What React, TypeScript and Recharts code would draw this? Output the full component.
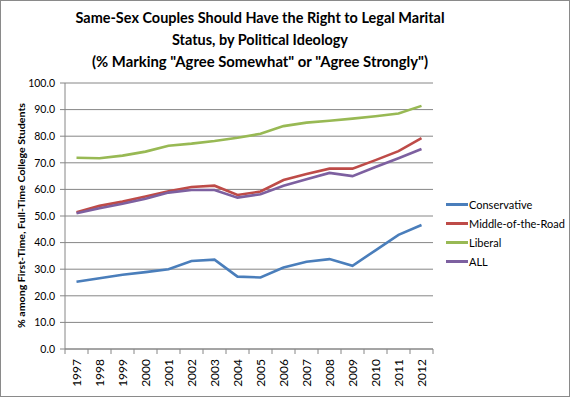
import { CartesianGrid, Legend, Line, LineChart, XAxis, YAxis } from "recharts";

const years = ["1997", "1998", "1999", "2000", "2001", "2002", "2003", "2004", "2005", "2006", "2007", "2008", "2009", "2010", "2011", "2012"];
const conservative = [25.3, 26.6, 27.9, 28.9, 30.0, 33.1, 33.6, 27.2, 26.9, 30.6, 32.8, 33.8, 31.3, 37.1, 42.9, 46.6];
const middle = [51.4, 53.8, 55.4, 57.3, 59.3, 60.9, 61.4, 57.9, 59.2, 63.5, 65.8, 67.8, 67.8, 71.0, 74.4, 79.3];
const liberal = [71.9, 71.7, 72.7, 74.2, 76.4, 77.2, 78.2, 79.4, 80.9, 83.8, 85.1, 85.8, 86.6, 87.5, 88.5, 91.4];
const all = [51.0, 52.9, 54.6, 56.5, 58.8, 59.8, 59.8, 56.9, 58.2, 61.4, 63.8, 66.2, 65.0, 68.4, 71.7, 75.2];
const yTicks = [0, 10, 20, 30, 40, 50, 60, 70, 80, 90, 100];

const titleLines = [
  "Same-Sex Couples Should Have the Right to Legal Marital",
  "Status, by Political Ideology",
  '(% Marking "Agree Somewhat" or "Agree Strongly")',
];
const yLabel = "% among First-Time, Full-Time College Students";

const series = [
  { key: "conservative", name: "Conservative", color: "#4A7EBB" },
  { key: "middle", name: "Middle-of-the-Road", color: "#BE4B48" },
  { key: "liberal", name: "Liberal", color: "#98B954" },
  { key: "all", name: "ALL", color: "#7D60A0" },
];

const data = years.map((year, i) => ({
  year,
  conservative: conservative[i],
  middle: middle[i],
  liberal: liberal[i],
  all: all[i],
}));

const FONT = "Lato, 'Liberation Sans', sans-serif";
const GRID = "#868686";
const BAND = 23;

function YearTick(props: any) {
  const { x, y, payload, index } = props;
  const last = index === years.length - 1;
  return (
    <g>
      <line x1={x - BAND / 2} x2={x - BAND / 2} y1={y} y2={y + 5} stroke={GRID} />
      {last && <line x1={x + BAND / 2} x2={x + BAND / 2} y1={y} y2={y + 5} stroke={GRID} />}
      <text
        x={0}
        y={0}
        transform={`translate(${x},${y + 10}) rotate(-90)`}
        textAnchor="end"
        dominantBaseline="central"
        fontSize={12}
        fontFamily={FONT}
        fill="#000"
      >
        {payload.value}
      </text>
    </g>
  );
}

function LegendBox() {
  return (
    <div style={{ fontFamily: FONT, fontSize: 11, color: "#000" }}>
      {series.map((s) => (
        <div key={s.key} style={{ display: "flex", alignItems: "center", height: 19 }}>
          <div style={{ width: 22, height: 3, background: s.color, marginRight: 1 }} />
          <span>{s.name}</span>
        </div>
      ))}
    </div>
  );
}

export default function App() {
  return (
    <div style={{ position: "absolute", left: 0, top: 0, width: 570, height: 397, background: "#fff" }}>
      <style>{"body{margin:0}"}</style>
      <LineChart width={570} height={397} data={data} margin={{ top: 83, right: 137, bottom: 0, left: 0 }}>
        <CartesianGrid vertical={false} stroke={GRID} />
        <XAxis
          dataKey="year"
          scale="band"
          height={48}
          interval={0}
          axisLine={{ stroke: GRID }}
          tickLine={false}
          tickSize={0}
          tickMargin={0}
          tick={<YearTick />}
        />
        <YAxis
          width={65}
          domain={[0, 100]}
          ticks={yTicks}
          interval={0}
          tickFormatter={(v: number) => v.toFixed(1)}
          axisLine={{ stroke: GRID }}
          tickLine={{ stroke: GRID }}
          tickSize={5}
          tickMargin={5}
          tick={{ fontSize: 10.5, fontFamily: FONT, fill: "#000" }}
        />
        <Legend
          layout="vertical"
          align="center"
          verticalAlign="middle"
          content={() => <LegendBox />}
          wrapperStyle={{ left: 446, top: 195, width: 124 }}
        />
        {series.map((s) => (
          <Line
            key={s.key}
            type="linear"
            dataKey={s.key}
            name={s.name}
            stroke={s.color}
            strokeWidth={2.6}
            dot={false}
            activeDot={false}
            isAnimationActive={false}
          />
        ))}
      </LineChart>
      <svg width={570} height={397} style={{ position: "absolute", left: 0, top: 0, pointerEvents: "none" }}>
        {titleLines.map((t, i) => (
          <text
            key={i}
            x={260}
            y={23 + i * 22}
            textAnchor="middle"
            fontFamily={FONT}
            fontWeight="bold"
            fontSize={15}
            fill="#000"
            textLength={[369, 176, 336][i]}
            lengthAdjust="spacingAndGlyphs"
          >
            {t}
          </text>
        ))}
        <text
          x={0}
          y={0}
          transform="translate(21,215.5) rotate(-90)"
          textAnchor="middle"
          dominantBaseline="central"
          fontFamily={FONT}
          fontWeight="bold"
          fontSize={10}
          fill="#000"
          textLength={225}
          lengthAdjust="spacingAndGlyphs"
        >
          {yLabel}
        </text>
        <rect x={0.5} y={0.5} width={569} height={396} fill="none" stroke="#8a8a8a" />
      </svg>
    </div>
  );
}
